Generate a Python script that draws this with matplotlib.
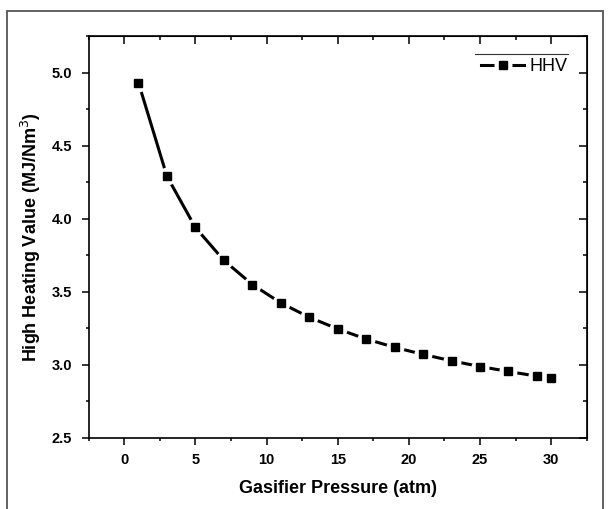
import matplotlib.pyplot as plt
from matplotlib.patches import Rectangle
from matplotlib.legend_handler import HandlerTuple

plt.rcParams['font.family'] = ['Liberation Sans', 'DejaVu Sans']

# Дані
pressure = [1, 3, 5, 7, 9, 11, 13, 15, 17, 19, 21, 23, 25, 27, 29, 30]
hhv = [4.93, 4.29, 3.94, 3.715, 3.55, 3.424, 3.326, 3.246, 3.177, 3.12,
       3.072, 3.028, 2.989, 2.955, 2.923, 2.909]
x_ticks = [0, 5, 10, 15, 20, 25, 30]
y_ticks = [2.5, 3.0, 3.5, 4.0, 4.5, 5.0]

fig = plt.figure(figsize=(6.1, 5.09), dpi=100)
ax = fig.add_axes([0.1454, 0.1395, 0.8164, 0.7898])

# Сіра рамка навколо рисунка
fig.patches.append(Rectangle((0.012, -0.05), 0.976, 1.029, transform=fig.transFigure,
                             fill=False, edgecolor='#555555', lw=1.3))

# Лінія з проміжками біля маркерів (як у Origin)
line, = ax.plot(pressure, hhv, color='black', lw=2.2, zorder=2)
gaps, = ax.plot(pressure, hhv, ls='none', marker='o', ms=13, mfc='white', mec='none', zorder=3)
marks, = ax.plot(pressure, hhv, ls='none', marker='s', ms=6, color='black', zorder=4)

ax.set_xlim(-2.5, 32.5)
ax.set_ylim(2.5, 5.25)
ax.set_xticks(x_ticks)
ax.set_yticks(y_ticks)
ax.set_xticks([v + 2.5 for v in [-5] + x_ticks], minor=True)
ax.set_yticks([v + 0.25 for v in y_ticks], minor=True)
ax.set_yticklabels(['%.1f' % v for v in y_ticks])

for s in ax.spines.values():
    s.set_linewidth(1.2)

ax.tick_params(which='major', direction='out', length=5, width=1.1, labelsize=10.5)
ax.tick_params(axis='x', which='major', pad=6)
ax.tick_params(axis='y', which='major', pad=7)
ax.tick_params(which='minor', direction='out', length=2.5, width=1.1)
for lab in ax.get_xticklabels() + ax.get_yticklabels():
    lab.set_fontweight('bold')

# Верхня та права осі з тиками всередину
top = ax.secondary_xaxis('top')
top.set_xticks(x_ticks)
top.set_xticks([v + 2.5 for v in [-5] + x_ticks], minor=True)
top.tick_params(which='major', direction='in', length=6, width=1.1, labeltop=False)
top.tick_params(which='minor', direction='in', length=3, width=1.1)
right = ax.secondary_yaxis('right')
right.set_yticks(y_ticks)
right.set_yticks([v + 0.25 for v in y_ticks], minor=True)
right.tick_params(which='major', direction='in', length=6, width=1.1, labelright=False)
right.tick_params(which='minor', direction='in', length=3, width=1.1)

ax.set_xlabel('Gasifier Pressure (atm)', fontsize=13, fontweight='bold', labelpad=9)
ax.set_ylabel('High Heating Value (MJ/Nm$^3$)', fontsize=13, fontweight='bold', labelpad=6)

leg = ax.legend([(line, gaps, marks)], ['HHV'], handler_map={tuple: HandlerTuple(ndivide=1)},
                loc='center right', bbox_to_anchor=(0.962, 0.923), borderaxespad=0, borderpad=0,
                frameon=False, fontsize=13, handlelength=2.4, handletextpad=0.3)
ax.plot([0.776, 0.963], [0.955, 0.955], transform=ax.transAxes, color='#333333', lw=0.8)

fig.savefig('out.png', dpi=100)
